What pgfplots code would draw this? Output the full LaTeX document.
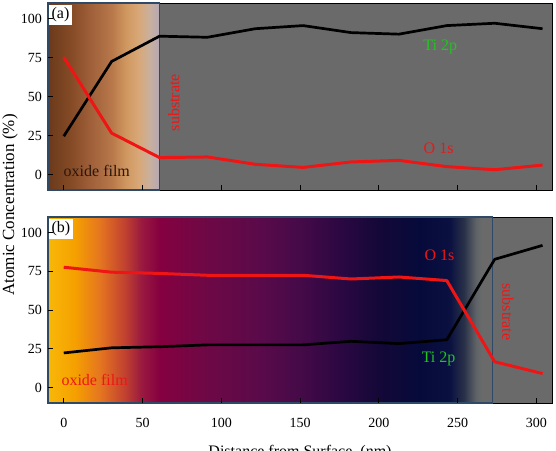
\documentclass[border=0pt]{standalone}
\usepackage{fontspec}
\setmainfont{Liberation Serif}
\usepackage{pgfplots}
\usepackage{pgfplotstable}
\pgfplotsset{compat=1.18}

\definecolor{tigreen}{HTML}{22C422}
\definecolor{ored}{HTML}{F01515}
\definecolor{subgray}{HTML}{6A6A6A}
\definecolor{framebl}{HTML}{2E4A66}
\definecolor{filmtxt}{HTML}{2B160A}

% oxidised surface layer, sample (a)
\definecolor{a0}{HTML}{6A3A1C}
\definecolor{a1}{HTML}{844A25}
\definecolor{a2}{HTML}{A0603A}
\definecolor{a3}{HTML}{B8784A}
\definecolor{a4}{HTML}{D09860}
\definecolor{a5}{HTML}{D8A878}
\definecolor{a6}{HTML}{C8B0A0}
\definecolor{a7}{HTML}{B4A8B4}
\pgfdeclarehorizontalshading{filmA}{100bp}{color(0bp)=(a0); color(25bp)=(a0); color(35bp)=(a1); color(44.3bp)=(a2); color(53.6bp)=(a3); color(60bp)=(a4); color(65.7bp)=(a5); color(70.7bp)=(a6); color(75bp)=(a7); color(100bp)=(a7)}

% oxidised surface layer, sample (b)
\definecolor{b0}{HTML}{F8B808}
\definecolor{b1}{HTML}{F5A000}
\definecolor{b2}{HTML}{E57520}
\definecolor{b3}{HTML}{C04030}
\definecolor{b4}{HTML}{9A1A40}
\definecolor{b5}{HTML}{850040}
\definecolor{b6}{HTML}{700845}
\definecolor{b7}{HTML}{5A0A4A}
\definecolor{b8}{HTML}{450A48}
\definecolor{b9}{HTML}{2C0842}
\definecolor{b10}{HTML}{140838}
\definecolor{b11}{HTML}{060A3A}
\definecolor{b12}{HTML}{0A1040}
\definecolor{b13}{HTML}{283048}
\definecolor{b14}{HTML}{606468}
\pgfdeclarehorizontalshading{filmB}{100bp}{color(0bp)=(b0); color(25bp)=(b0); color(28bp)=(b1); color(30.85bp)=(b2); color(33.7bp)=(b3); color(35.5bp)=(b4); color(37.6bp)=(b5); color(42.2bp)=(b6); color(48.9bp)=(b7); color(53.4bp)=(b8); color(57.8bp)=(b9); color(62.2bp)=(b10); color(66.8bp)=(b11); color(70.2bp)=(b12); color(71.8bp)=(b13); color(73.2bp)=(b14); color(73.9bp)=(subgray); color(100bp)=(subgray)}

\pgfplotstableread{
x      TiA   OA    TiB   OB
0      24.5  75.2  22.3  77.6
30.4   72.5  26.5  25.6  74.4
60.8   88.7  10.8  26.3  73.6
91.2   88.0  11.2  27.5  72.4
121.6  93.5   6.5  27.5  72.4
152    95.5   4.5  27.5  72.4
182.4  91.0   8.0  29.8  70.0
212.8  90.0   9.0  28.3  71.3
243.2  95.5   5.0  30.8  69.0
273.6  97.0   3.0  82.7  16.6
304    93.5   6.0  91.7   9.0
}\depth

\tikzset{
  ti/.style={black, line width=2.7pt, line join=round},
  ox/.style={ored, line width=3pt, line join=round},
  note/.style={font=\fontsize{16}{18}\selectfont},
}
\pgfplotsset{
  panel/.style={
    scale only axis, width=504pt,
    xmin=-10, xmax=310, ymin=-10, ymax=110,
    xtick={0,50,...,300}, ytick={0,25,50,75,100},
    tick align=inside, xtick pos=lower, ytick pos=left,
    major tick length=5pt,
    tick style={black, line width=0.6pt},
    axis line style={draw=none},
    axis on top, clip=false,
    /pgf/number format/assume math mode=true,
    tick label style={font=\fontsize{14}{16}\selectfont},
    yticklabel style={anchor=east, inner sep=0pt, xshift=-6pt},
    xticklabel style={anchor=base, inner sep=0pt, yshift=-24pt},
  },
}

\begin{document}
\begin{tikzpicture}
\useasboundingbox (0,0) rectangle (556pt,450pt);

% (a)
\begin{axis}[panel, at={(48pt,260pt)}, anchor=south west, height=187pt,
  xticklabels={}]
  \fill[subgray] (-10,-10) rectangle (310,110);
  \path[shading=filmA] (-10,-10) rectangle (60.8,110);
  \draw[black, line width=0.9pt] (60.8,-10) rectangle (310,110);
  \draw[framebl, line width=1.3pt] (-10,-10) rectangle (60.8,110);
  \addplot[ti] table[x=x, y=TiA] {\depth};
  \addplot[ox] table[x=x, y=OA] {\depth};
  \node[fill=white, anchor=north west, inner sep=2.5pt, note] at (-9.4,108.8) {(a)};
  \node[note, text=tigreen] at (239,82) {Ti 2p};
  \node[note, text=ored] at (238,16.7) {O 1s};
  \node[note, text=ored, rotate=90] at (70,46) {substrate};
  \node[note, text=filmtxt] at (21,2) {oxide film};
\end{axis}

% (b)
\begin{axis}[panel, at={(48pt,47pt)}, anchor=south west, height=186pt]
  \fill[subgray] (-10,-10) rectangle (310,110);
  \path[shading=filmB] (-10,-10) rectangle (272,110);
  \draw[black, line width=0.9pt] (272,-10) rectangle (310,110);
  \draw[framebl, line width=1.3pt] (-10,-10) rectangle (272,110);
  \addplot[ti] table[x=x, y=TiB] {\depth};
  \addplot[ox] table[x=x, y=OB] {\depth};
  \node[fill=white, anchor=north west, inner sep=2.5pt, note] at (-9.4,108.8) {(b)};
  \node[note, text=ored] at (238.6,85) {O 1s};
  \node[note, text=tigreen] at (238,18.6) {Ti 2p};
  \node[note, text=ored] at (19.6,5) {oxide film};
  \node[note, text=ored, rotate=-90] at (282,48.7) {substrate};
\end{axis}

\node[rotate=90, font=\fontsize{17}{20}\selectfont] at (10pt,245pt) {Atomic Concentration (\%)};
\node[anchor=base, font=\fontsize{16}{19}\selectfont] at (300pt,-6pt) {Distance from Surface\ \ (nm)};
\end{tikzpicture}
\end{document}
